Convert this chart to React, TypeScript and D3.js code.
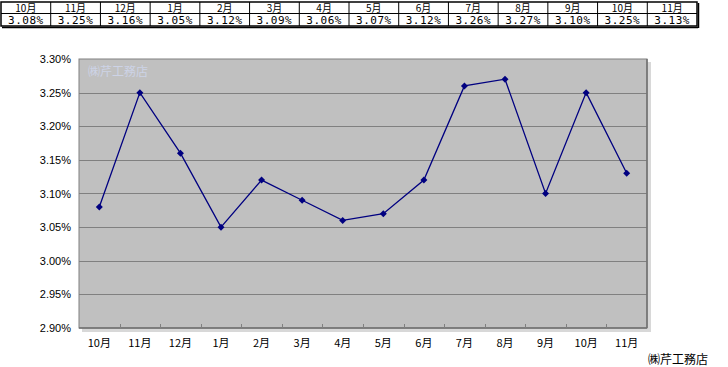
import React from "react";
import * as d3 from "d3";

const months = ["10月", "11月", "12月", "1月", "2月", "3月", "4月", "5月", "6月", "7月", "8月", "9月", "10月", "11月"];
const rates = [3.08, 3.25, 3.16, 3.05, 3.12, 3.09, 3.06, 3.07, 3.12, 3.26, 3.27, 3.10, 3.25, 3.13];
const yTicks = [2.9, 2.95, 3.0, 3.05, 3.1, 3.15, 3.2, 3.25, 3.3];
const company = "㈱芹工務店";

const W = 728;
const H = 367;
const plot = { left: 79, right: 647, top: 59, bottom: 328 };
const table = { left: 1, right: 697, top: 2, mid: 13.5, bottom: 26 };

export default function App() {
  const x = d3
    .scaleBand<number>()
    .domain(d3.range(months.length))
    .range([plot.left, plot.right])
    .padding(0);
  const y = d3.scaleLinear().domain([2.9, 3.3]).range([plot.bottom, plot.top]);
  const cx = (i: number) => (x(i) as number) + x.bandwidth() / 2;
  const line = d3
    .line<number>()
    .x((_, i) => cx(i))
    .y((d) => y(d));

  const col = d3
    .scaleBand<number>()
    .domain(d3.range(months.length))
    .range([table.left, table.right]);

  const diamond = (px: number, py: number) =>
    `M${px},${py - 3.5}L${px + 3.5},${py}L${px},${py + 3.5}L${px - 3.5},${py}Z`;

  return (
    <svg
      width={W}
      height={H}
      style={{ position: "absolute", left: 0, top: 0, background: "#fff" }}
      fontFamily="'Liberation Sans', Arial, sans-serif"
    >
      {/* table */}
      <g>
        <rect
          x={table.left}
          y={table.top}
          width={table.right - table.left}
          height={table.bottom - table.top}
          fill="#fff"
          stroke="#000"
          strokeWidth={1.5}
        />
        <line x1={table.left} x2={table.right} y1={table.mid} y2={table.mid} stroke="#000" strokeWidth={1} />
        {months.map((m, i) => {
          const x0 = col(i) as number;
          const w = col.bandwidth();
          return (
            <g key={"c" + i}>
              {i > 0 && (
                <line x1={x0} x2={x0} y1={table.top} y2={table.bottom} stroke="#000" strokeWidth={1} />
              )}
              <text
                x={x0 + w / 2}
                y={table.mid - 2}
                textAnchor="middle"
                fontSize={10}
                fill="#000"
                fontFamily="'Noto Sans CJK JP', sans-serif"
              >
                {m}
              </text>
              <text
                x={x0 + w / 2}
                y={table.bottom - 2.5}
                textAnchor="middle"
                fontSize={11}
                fill="#000"
                fontFamily="'DejaVu Sans Mono', 'Liberation Mono', monospace"
                letterSpacing={0.5}
              >
                {rates[i].toFixed(2) + "%"}
              </text>
            </g>
          );
        })}
        <line x1={table.left + 1} x2={table.right + 1} y1={table.bottom + 1.5} y2={table.bottom + 1.5} stroke="#000" strokeWidth={1.5} />
        <line x1={table.right + 1.5} x2={table.right + 1.5} y1={table.top + 1} y2={table.bottom + 2} stroke="#000" strokeWidth={1.5} />
      </g>

      {/* plot area shadow */}
      <rect
        x={plot.left + 3}
        y={plot.top + 3}
        width={plot.right - plot.left + 1}
        height={plot.bottom - plot.top + 1}
        fill="#d8d8d8"
      />
      <rect
        x={plot.left}
        y={plot.top}
        width={plot.right - plot.left}
        height={plot.bottom - plot.top}
        fill="#c0c0c0"
        stroke="#808080"
        strokeWidth={1}
      />

      {/* gridlines */}
      {yTicks.slice(1, -1).map((t) => (
        <line
          key={"g" + t}
          x1={plot.left}
          x2={plot.right}
          y1={Math.round(y(t)) + 0.5}
          y2={Math.round(y(t)) + 0.5}
          stroke="#808080"
          strokeWidth={1}
        />
      ))}
      <line x1={plot.left} x2={plot.right} y1={plot.bottom} y2={plot.bottom} stroke="#707070" strokeWidth={1.5} />
      <line x1={plot.right} x2={plot.right} y1={plot.top} y2={plot.bottom} stroke="#707070" strokeWidth={1.5} />

      {/* x ticks */}
      {months.slice(1).map((_, k) => {
        const xx = Math.round(x(k + 1) as number) + 0.5;
        return <line key={"t" + k} x1={xx} x2={xx} y1={plot.bottom} y2={plot.bottom - 4} stroke="#808080" />;
      })}

      {/* watermark */}
      <text x={88} y={76} fontSize={12} fill="#cdd3e6" fontFamily="'Noto Sans CJK JP', sans-serif">
        {company}
      </text>

      {/* y labels */}
      {yTicks.map((t) => (
        <text key={"y" + t} x={71} y={y(t) + 4} textAnchor="end" fontSize={11} fill="#000">
          {t.toFixed(2) + "%"}
        </text>
      ))}

      {/* x labels */}
      {months.map((m, i) => (
        <text
          key={"x" + i}
          x={cx(i)}
          y={347}
          textAnchor="middle"
          fontSize={11}
          fill="#000"
          fontFamily="'Noto Sans CJK JP', sans-serif"
        >
          {m}
        </text>
      ))}

      {/* line */}
      <path d={line(rates) || ""} fill="none" stroke="#000080" strokeWidth={1.3} />
      {rates.map((r, i) => (
        <path key={"m" + i} d={diamond(cx(i), y(r))} fill="#000080" />
      ))}

      {/* footer */}
      <text x={708} y={364} textAnchor="end" fontSize={12} fill="#000" fontFamily="'Noto Sans CJK JP', sans-serif">
        {company}
      </text>
    </svg>
  );
}
